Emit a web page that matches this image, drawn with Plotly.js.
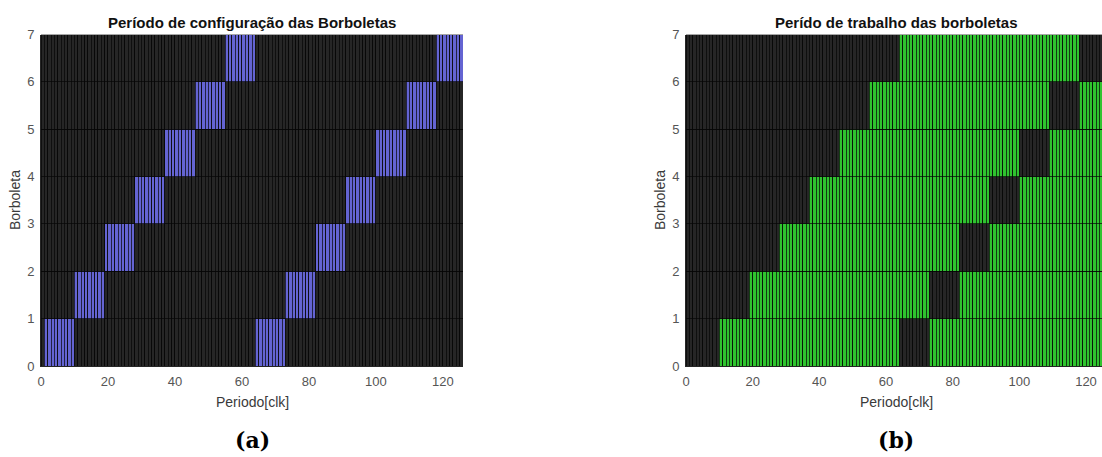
<!DOCTYPE html>
<html>
<head>
<meta charset="utf-8">
<script src="https://cdn.plot.ly/plotly-3.0.1.min.js"></script>
<style>
html,body{margin:0;padding:0;overflow:hidden;background:#fff;}
#chart{width:1110px;height:457px;}
</style>
</head>
<body>
<div id="chart"></div>
<script>
// ---- data ----
const butterflies = [0, 1, 2, 3, 4, 5, 6];             // row index (Borboleta)
const configStart1 = [1, 10, 19, 28, 37, 46, 55];      // first configuration window start [clk]
const configStart2 = [64, 73, 82, 91, 100, 109, 118];  // second configuration window start [clk]
const configLength = [9, 9, 9, 9, 9, 9, 9];            // configuration window length [clk]
const workStart = [10, 19, 28, 37, 46, 55, 64];        // first working period start [clk]
const nPeriods = 127;                                  // clock periods drawn
const xTicks = [0, 20, 40, 60, 80, 100, 120];
const yTicks = [0, 1, 2, 3, 4, 5, 6, 7];
const titleA = 'Período de configuração das Borboletas';
const titleB = 'Perído de trabalho das borboletas';
const xTitle = 'Periodo[clk]';
const yTitle = 'Borboleta';

// ---- styles ----
const COL_OFF = '#262626';
const COL_CFG = '#6464d2';
const COL_WORK = '#2fc42f';
const EDGE = '#050505';

const periods = Array.from({length: nPeriods}, (_, p) => p);
const centers = periods.map(p => p + 0.5);

function inConfig(k, p) {
  const L = configLength[k];
  return (p >= configStart1[k] && p < configStart1[k] + L) ||
         (p >= configStart2[k] && p < configStart2[k] + L);
}

const traces = [];
butterflies.forEach(k => {
  traces.push({
    type: 'bar', x: centers, y: periods.map(() => 1), width: 1,
    xaxis: 'x', yaxis: 'y', hoverinfo: 'skip', showlegend: false,
    marker: {color: periods.map(p => inConfig(k, p) ? COL_CFG : COL_OFF),
             line: {color: EDGE, width: 0.7}}
  });
});
butterflies.forEach(k => {
  traces.push({
    type: 'bar', x: centers, y: periods.map(() => 1), width: 1,
    xaxis: 'x2', yaxis: 'y2', hoverinfo: 'skip', showlegend: false,
    marker: {color: periods.map(p => (!inConfig(k, p) && p >= workStart[k]) ? COL_WORK : COL_OFF),
             line: {color: EDGE, width: 0.7}}
  });
});

const W = 1110, H = 457;
const tickFont = {family: 'Liberation Sans, Arial, sans-serif', size: 13, color: '#555'};
const yDom = [(H - 366) / H, (H - 34.5) / H];
function xa(dom) {
  return {domain: dom, range: [0, 126], tickvals: xTicks, ticks: 'outside', ticklen: 3,
          tickcolor: '#fff', showline: true, linecolor: '#262626', linewidth: 1,
          showgrid: false, zeroline: false, tickfont: tickFont, fixedrange: true};
}
function ya(dom, anchor) {
  return {domain: dom, range: [0, 7], tickvals: yTicks, ticks: 'outside', ticklen: 3,
          tickcolor: '#fff', showline: true, linecolor: '#262626', linewidth: 1,
          showgrid: false, zeroline: false, tickfont: tickFont, anchor: anchor, fixedrange: true};
}
const dA = [41 / W, 463 / W], dB = [686 / W, 1106 / W];
const xA = Object.assign(xa(dA), {anchor: 'y'});
const xB = Object.assign(xa(dB), {anchor: 'y2'});

function ann(text, xPix, yPix, font, angle) {
  return {text: text, xref: 'paper', yref: 'paper', x: xPix / W, y: 1 - yPix / H,
          xanchor: 'center', yanchor: 'middle', showarrow: false, font: font, textangle: angle || 0};
}
const tFont = {family: 'Liberation Sans, Arial, sans-serif', size: 15, color: '#111', weight: 'bold'};
const aFont = {family: 'Liberation Sans, Arial, sans-serif', size: 14, color: '#3a3a3a'};
const sFont = {family: 'DejaVu Serif, serif', size: 22, color: '#000', weight: 'bold'};

const layout = {
  width: W, height: H, margin: {l: 0, r: 0, t: 0, b: 0},
  paper_bgcolor: '#fff', plot_bgcolor: '#fff', barmode: 'stack', bargap: 0,
  xaxis: xA, yaxis: ya(yDom, 'x'), xaxis2: xB, yaxis2: ya(yDom, 'x2'),
  annotations: [
    ann('<b>' + titleA + '</b>', 252, 22, tFont),
    ann('<b>' + titleB + '</b>', 896, 22, tFont),
    ann(xTitle, 252, 402, aFont),
    ann(xTitle, 896, 402, aFont),
    ann(yTitle, 15, 200, aFont, -90),
    ann(yTitle, 660, 200, aFont, -90),
    ann('<b>(a)</b>', 252, 440, sFont),
    ann('<b>(b)</b>', 896, 440, sFont)
  ]
};
Plotly.newPlot('chart', traces, layout, {staticPlot: true, displayModeBar: false});
</script>
</body>
</html>
